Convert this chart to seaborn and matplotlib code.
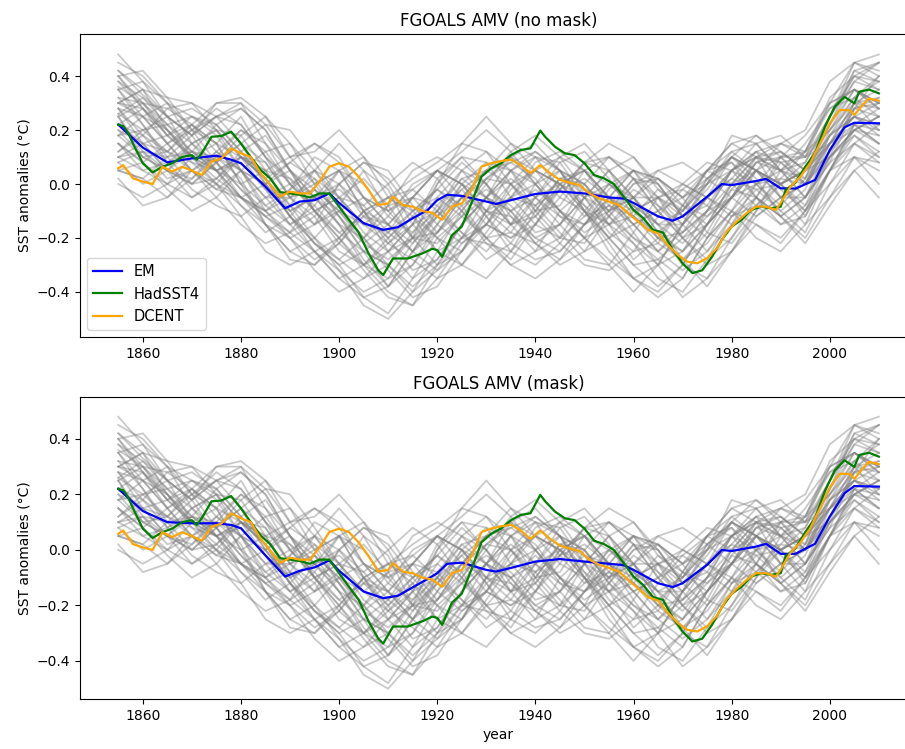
import matplotlib
matplotlib.use("Agg")
import matplotlib.pyplot as plt
import seaborn as sns
import pandas as pd

# ---------------- data ----------------
member_years = [1855, 1860, 1865, 1870, 1875, 1880, 1885, 1890, 1895, 1900, 1905, 1910,
                1915, 1920, 1925, 1930, 1935, 1940, 1945, 1950, 1955, 1960, 1965, 1970,
                1975, 1980, 1985, 1990, 1995, 2000, 2005, 2010]

members = [
    [0.42,0.33,0.25,0.28,0.22,0.12,0.00,-0.10,-0.05,-0.15,-0.28,-0.38,-0.25,-0.10,0.02,0.05,0.08,0.12,0.05,-0.05,-0.15,-0.22,-0.30,-0.25,-0.10,0.05,0.10,0.05,0.08,0.25,0.42,0.38],
    [0.05,0.02,-0.05,0.02,0.12,0.20,0.15,0.05,-0.05,-0.15,-0.20,-0.12,0.00,0.05,-0.05,-0.15,-0.20,-0.15,-0.05,0.08,0.10,0.02,-0.10,-0.20,-0.15,-0.05,0.10,0.12,0.05,0.10,0.20,0.25],
    [0.30,0.25,0.15,0.05,-0.02,-0.05,-0.12,-0.20,-0.15,0.00,0.08,0.02,-0.10,-0.20,-0.25,-0.15,0.00,0.10,0.08,-0.05,-0.18,-0.25,-0.22,-0.08,0.05,0.08,-0.05,-0.15,-0.12,0.05,0.18,0.10],
    [0.18,0.20,0.22,0.25,0.20,0.05,-0.10,-0.18,-0.25,-0.20,-0.10,-0.05,-0.12,-0.25,-0.30,-0.18,-0.05,0.05,0.10,0.05,-0.05,-0.10,-0.05,-0.02,-0.08,-0.15,-0.05,0.10,0.18,0.30,0.35,0.28],
    [0.25,0.10,0.05,0.12,0.22,0.28,0.20,0.05,-0.05,-0.02,-0.10,-0.25,-0.35,-0.28,-0.15,-0.05,0.02,-0.05,-0.15,-0.25,-0.20,-0.10,-0.05,-0.10,0.00,0.12,0.15,0.05,-0.05,0.08,0.28,0.32],
    [0.35,0.38,0.30,0.15,0.05,0.00,0.05,0.02,-0.10,-0.20,-0.30,-0.25,-0.15,0.00,0.10,0.08,-0.05,-0.15,-0.20,-0.12,0.00,0.05,-0.05,-0.20,-0.28,-0.20,-0.05,0.08,0.10,0.20,0.30,0.20],
    [0.10,0.15,0.05,-0.05,0.00,0.10,0.08,-0.05,-0.15,-0.08,0.05,-0.02,-0.20,-0.30,-0.25,-0.10,0.05,0.12,0.05,-0.10,-0.25,-0.35,-0.30,-0.15,0.02,0.10,0.05,-0.05,0.00,0.18,0.25,0.30],
    [0.28,0.18,0.12,0.20,0.25,0.15,0.00,-0.12,-0.20,-0.28,-0.35,-0.30,-0.18,-0.05,0.05,0.00,-0.10,-0.20,-0.15,0.00,0.10,0.05,-0.08,-0.15,-0.05,0.05,0.12,0.00,-0.12,0.05,0.22,0.20],
    [0.15,0.05,0.00,0.05,0.10,0.02,-0.15,-0.25,-0.30,-0.22,-0.10,-0.15,-0.25,-0.15,0.00,0.08,0.05,-0.10,-0.20,-0.22,-0.10,0.02,0.00,-0.12,-0.20,-0.10,0.05,0.15,0.12,0.20,0.32,0.40],
    [0.22,0.28,0.20,0.10,0.15,0.25,0.10,-0.05,0.00,0.05,-0.10,-0.22,-0.15,0.02,0.10,0.00,-0.15,-0.25,-0.20,-0.05,0.05,-0.05,-0.18,-0.25,-0.15,0.00,0.10,0.08,0.00,0.12,0.22,0.15],
    [0.40,0.30,0.18,0.10,0.05,0.10,0.02,-0.12,-0.22,-0.30,-0.42,-0.48,-0.35,-0.20,-0.12,-0.20,-0.28,-0.15,0.00,0.05,-0.05,-0.15,-0.25,-0.18,-0.05,-0.10,-0.20,-0.25,-0.15,0.05,0.20,0.25],
    [0.05,0.08,0.15,0.22,0.15,0.00,-0.08,-0.02,0.10,0.05,-0.10,-0.20,-0.12,-0.02,-0.08,-0.20,-0.18,-0.05,0.05,0.00,-0.12,-0.20,-0.28,-0.35,-0.20,-0.05,0.05,0.00,0.05,0.22,0.35,0.30],
    [0.32,0.22,0.10,0.00,0.02,0.12,0.18,0.05,-0.10,-0.18,-0.12,-0.05,0.02,0.08,0.15,0.12,0.00,-0.10,-0.08,0.05,0.10,0.02,-0.10,-0.05,0.05,0.15,0.10,-0.05,-0.05,0.10,0.18,0.12],
    [0.20,0.15,0.12,0.05,-0.05,-0.15,-0.22,-0.18,-0.05,0.05,-0.05,-0.15,-0.25,-0.32,-0.25,-0.12,-0.05,-0.08,-0.18,-0.28,-0.30,-0.18,-0.05,0.00,-0.05,-0.12,-0.08,-0.15,-0.08,0.12,0.28,0.30],
    [0.45,0.40,0.30,0.25,0.18,0.05,-0.05,-0.05,0.02,-0.05,-0.18,-0.25,-0.20,-0.12,-0.02,0.05,0.00,-0.08,-0.02,0.08,0.05,-0.05,-0.15,-0.15,-0.05,0.05,0.00,-0.08,0.02,0.25,0.45,0.42],
    [0.12,0.20,0.25,0.18,0.05,-0.05,-0.10,-0.20,-0.32,-0.40,-0.35,-0.25,-0.15,-0.10,-0.18,-0.25,-0.15,0.00,0.05,0.00,-0.10,-0.20,-0.25,-0.15,0.00,0.05,-0.05,-0.12,-0.05,0.15,0.25,0.18],
    [0.25,0.12,0.02,0.05,0.12,0.05,-0.05,-0.15,-0.08,0.05,0.00,-0.12,-0.18,-0.10,0.05,0.12,0.05,-0.05,-0.12,-0.15,-0.05,0.05,0.00,-0.12,-0.08,0.05,0.15,0.18,0.10,0.15,0.20,0.18],
    [0.38,0.32,0.22,0.15,0.20,0.18,0.05,-0.08,-0.15,-0.10,-0.20,-0.30,-0.40,-0.32,-0.20,-0.10,-0.12,-0.20,-0.25,-0.15,-0.05,-0.05,-0.15,-0.28,-0.38,-0.25,-0.10,0.00,0.05,0.18,0.28,0.25],
    [0.00,-0.05,0.00,0.10,0.08,-0.05,-0.15,-0.25,-0.20,-0.10,-0.05,-0.10,-0.05,0.05,0.00,-0.12,-0.22,-0.28,-0.25,-0.15,-0.02,0.05,0.02,-0.05,0.02,0.08,0.00,-0.10,-0.18,0.00,0.15,0.22],
    [0.28,0.25,0.15,0.20,0.28,0.22,0.10,0.00,0.05,0.00,-0.12,-0.15,-0.05,0.05,0.00,-0.10,-0.05,0.08,0.12,0.05,-0.08,-0.12,-0.18,-0.10,0.05,0.12,0.05,0.00,0.08,0.25,0.38,0.45],
    [0.15,0.08,-0.02,-0.10,-0.05,0.05,0.00,-0.12,-0.22,-0.28,-0.20,-0.08,-0.05,-0.15,-0.22,-0.15,-0.02,0.05,0.00,-0.10,-0.15,-0.08,-0.15,-0.22,-0.12,-0.02,-0.05,-0.12,-0.20,-0.05,0.10,0.05],
    [0.35,0.25,0.20,0.10,0.05,0.10,-0.02,-0.10,-0.05,-0.12,-0.25,-0.30,-0.20,0.00,0.15,0.25,0.15,0.05,0.00,-0.05,-0.10,-0.05,-0.05,-0.12,-0.02,0.10,0.05,0.00,0.05,0.18,0.25,0.22],
    [0.22,0.18,0.08,0.12,0.05,-0.05,-0.10,-0.05,-0.12,-0.25,-0.30,-0.22,-0.12,-0.20,-0.30,-0.35,-0.25,-0.10,0.02,0.00,-0.12,-0.22,-0.35,-0.40,-0.28,-0.12,-0.05,-0.12,-0.05,0.10,0.20,0.15],
    [0.10,0.12,0.10,0.18,0.30,0.30,0.15,0.00,-0.10,-0.05,-0.15,-0.18,-0.10,-0.02,-0.10,-0.20,-0.30,-0.25,-0.10,-0.02,-0.05,-0.15,-0.10,0.00,0.08,0.05,0.10,0.05,0.02,0.22,0.38,0.35],
    [0.30,0.35,0.25,0.10,0.00,-0.05,-0.12,-0.08,0.05,0.15,0.05,-0.10,-0.20,-0.18,-0.05,0.02,0.10,0.05,-0.05,-0.10,-0.20,-0.30,-0.38,-0.30,-0.15,-0.05,0.05,0.10,0.00,0.10,0.30,0.28],
    [0.18,0.10,0.05,0.00,0.08,0.15,0.08,-0.05,-0.02,-0.15,-0.30,-0.40,-0.45,-0.30,-0.15,-0.05,0.05,0.00,-0.10,-0.18,-0.12,0.00,0.02,-0.05,0.00,0.10,0.05,-0.05,0.00,0.12,0.28,0.40],
    [0.40,0.28,0.18,0.22,0.15,0.00,-0.15,-0.28,-0.30,-0.20,-0.10,-0.05,-0.02,-0.10,-0.20,-0.15,-0.05,0.00,0.10,0.15,0.05,-0.10,-0.20,-0.18,-0.10,-0.05,0.00,0.05,0.12,0.30,0.35,0.30],
    [0.08,0.00,0.05,0.15,0.20,0.10,0.02,0.08,0.15,0.10,-0.05,-0.15,-0.22,-0.12,0.00,-0.05,-0.15,-0.10,0.02,-0.02,-0.15,-0.28,-0.20,-0.08,0.05,0.15,0.18,0.10,0.02,0.15,0.25,0.20],
    [0.26,0.20,0.12,0.08,0.05,0.08,-0.02,-0.15,-0.25,-0.35,-0.42,-0.38,-0.25,-0.12,-0.05,-0.10,-0.18,-0.22,-0.15,-0.05,0.00,-0.08,-0.20,-0.28,-0.22,-0.10,0.00,0.02,0.00,0.15,0.22,0.15],
    [0.32,0.30,0.20,0.12,0.10,0.05,0.00,0.05,-0.02,-0.10,-0.15,-0.08,0.05,0.10,0.05,-0.05,-0.10,-0.05,0.00,-0.08,-0.15,-0.12,-0.02,-0.08,-0.15,-0.05,0.08,0.10,0.10,0.30,0.45,0.48],
    [0.30,0.35,0.32,0.30,0.25,0.28,0.20,0.05,-0.10,-0.22,-0.30,-0.35,-0.30,-0.18,-0.05,0.05,0.10,0.00,-0.12,-0.20,-0.28,-0.35,-0.40,-0.30,-0.15,0.00,0.10,0.15,0.20,0.38,0.45,0.40],
    [0.20,0.10,0.12,0.22,0.30,0.32,0.25,0.10,0.00,0.05,0.10,0.00,-0.15,-0.25,-0.20,-0.05,0.10,0.15,0.05,-0.10,-0.20,-0.15,-0.10,-0.20,-0.30,-0.25,-0.15,-0.20,-0.10,0.05,0.10,0.00],
    [0.38,0.28,0.15,0.05,-0.02,0.05,0.12,0.15,0.05,-0.08,-0.20,-0.32,-0.42,-0.38,-0.25,-0.10,0.00,0.05,0.00,-0.10,-0.22,-0.35,-0.42,-0.35,-0.20,-0.10,-0.15,-0.22,-0.10,0.10,0.20,0.25],
    [0.12,0.18,0.28,0.30,0.20,0.10,0.02,-0.08,-0.20,-0.32,-0.45,-0.50,-0.40,-0.25,-0.10,0.02,0.08,0.02,-0.10,-0.20,-0.15,-0.05,0.05,0.08,0.02,-0.05,-0.12,-0.05,0.05,0.25,0.40,0.45],
    [0.48,0.38,0.25,0.18,0.25,0.30,0.22,0.10,0.12,0.20,0.10,-0.05,-0.10,-0.02,0.08,0.00,-0.12,-0.22,-0.28,-0.20,-0.05,0.05,0.02,-0.08,-0.12,-0.05,0.08,0.12,0.05,0.15,0.30,0.35],
    [0.02,-0.08,-0.05,0.05,0.00,-0.12,-0.25,-0.30,-0.25,-0.32,-0.40,-0.35,-0.22,-0.10,-0.02,-0.12,-0.25,-0.30,-0.22,-0.10,0.00,-0.05,-0.18,-0.30,-0.35,-0.25,-0.12,-0.05,-0.15,-0.05,0.05,-0.05],
    [0.25,0.30,0.22,0.12,0.08,0.15,0.22,0.20,0.08,-0.05,-0.08,0.00,0.08,0.02,-0.10,-0.22,-0.25,-0.15,-0.02,0.08,0.15,0.10,-0.02,-0.10,0.00,0.18,0.15,0.05,0.00,0.20,0.35,0.28],
    [0.35,0.22,0.08,-0.02,-0.08,-0.12,-0.05,0.00,-0.08,-0.18,-0.25,-0.18,-0.05,0.05,0.00,-0.10,-0.15,-0.05,0.08,0.12,0.02,-0.12,-0.22,-0.28,-0.18,-0.02,0.08,0.05,-0.05,0.08,0.15,0.08],
    [0.18,0.25,0.30,0.20,0.08,-0.02,-0.10,-0.02,0.05,-0.05,-0.15,-0.22,-0.28,-0.35,-0.30,-0.20,-0.10,-0.02,-0.10,-0.20,-0.30,-0.40,-0.30,-0.15,-0.05,0.02,-0.02,-0.10,-0.02,0.18,0.32,0.38],
    [0.28,0.15,0.05,0.02,0.10,0.20,0.12,0.00,-0.10,-0.05,0.02,-0.08,-0.20,-0.22,-0.12,0.00,0.12,0.18,0.10,-0.02,-0.10,-0.05,0.02,-0.05,-0.18,-0.22,-0.10,0.05,0.15,0.28,0.32,0.25],
    [0.42,0.35,0.20,0.08,0.00,-0.08,-0.15,-0.20,-0.28,-0.22,-0.12,-0.20,-0.32,-0.28,-0.15,-0.05,-0.10,-0.22,-0.30,-0.25,-0.12,-0.02,-0.08,-0.18,-0.10,0.05,0.12,0.08,0.00,0.15,0.30,0.32],
    [0.08,0.12,0.05,0.00,0.08,0.18,0.25,0.15,0.00,-0.12,-0.22,-0.15,-0.05,-0.08,-0.18,-0.28,-0.22,-0.08,0.02,0.05,0.00,-0.08,-0.15,-0.10,0.02,0.10,0.02,-0.12,-0.22,-0.08,0.05,0.12],
    [0.30,0.28,0.18,0.10,0.02,-0.05,0.00,0.08,0.02,-0.12,-0.25,-0.38,-0.30,-0.15,-0.05,0.05,0.15,0.10,-0.02,-0.12,-0.08,0.02,-0.05,-0.15,-0.25,-0.15,0.00,0.10,0.12,0.32,0.40,0.35],
    [0.15,0.08,0.00,-0.05,0.02,0.10,0.05,-0.10,-0.22,-0.30,-0.25,-0.30,-0.38,-0.30,-0.20,-0.22,-0.30,-0.35,-0.28,-0.15,-0.08,-0.15,-0.25,-0.32,-0.25,-0.12,-0.02,0.00,-0.08,0.05,0.15,0.10],
    [0.40,0.42,0.32,0.20,0.15,0.10,0.05,0.10,0.15,0.08,-0.05,-0.10,-0.02,0.05,0.12,0.20,0.12,0.00,-0.10,-0.15,-0.10,0.00,0.05,0.00,-0.05,0.02,0.12,0.15,0.10,0.25,0.40,0.38],
    [0.22,0.15,0.18,0.25,0.22,0.12,0.02,-0.12,-0.25,-0.35,-0.30,-0.20,-0.10,-0.05,-0.12,-0.05,0.05,0.10,0.05,-0.08,-0.20,-0.30,-0.28,-0.20,-0.10,0.00,0.05,-0.02,-0.10,0.05,0.22,0.28],
    [0.10,0.05,0.08,0.15,0.08,-0.02,-0.12,-0.18,-0.12,0.00,0.08,0.05,-0.08,-0.18,-0.10,0.02,0.00,-0.12,-0.22,-0.30,-0.32,-0.25,-0.12,-0.02,0.05,0.00,-0.08,0.02,0.12,0.28,0.35,0.30],
    [0.36,0.30,0.28,0.22,0.12,0.05,-0.08,-0.15,-0.10,-0.20,-0.32,-0.42,-0.45,-0.35,-0.22,-0.15,-0.20,-0.12,0.00,0.05,-0.05,-0.18,-0.30,-0.42,-0.35,-0.20,-0.08,0.00,0.05,0.15,0.25,0.22],
    [0.26,0.32,0.25,0.18,0.25,0.22,0.10,0.02,-0.05,0.00,-0.08,-0.18,-0.25,-0.18,-0.08,-0.02,-0.08,-0.18,-0.15,-0.05,0.05,0.10,0.00,-0.12,-0.05,0.10,0.18,0.12,0.05,0.22,0.42,0.45],
    [0.05,0.02,0.10,0.12,0.05,-0.08,-0.18,-0.12,-0.02,-0.10,-0.22,-0.28,-0.20,-0.08,0.02,-0.05,-0.15,-0.12,-0.02,0.02,-0.05,-0.12,-0.20,-0.25,-0.15,-0.05,0.05,0.00,-0.10,0.00,0.10,0.08],
]

em_years = [1855, 1860, 1865, 1870, 1875, 1878, 1880, 1885, 1889, 1892, 1895, 1898, 1900,
            1905, 1909, 1912, 1915, 1918, 1920, 1922, 1925, 1930, 1932, 1935, 1940, 1945,
            1950, 1955, 1958, 1960, 1965, 1968, 1970, 1975, 1978, 1980, 1985, 1987, 1990,
            1993, 1997, 2000, 2003, 2005, 2010]
em_nomask = [0.22, 0.135, 0.08, 0.095, 0.105, 0.09, 0.077, -0.01, -0.09, -0.065, -0.06, -0.035, -0.07,
             -0.145, -0.17, -0.16, -0.127, -0.097, -0.06, -0.04, -0.044, -0.065, -0.074, -0.06, -0.037, -0.028,
             -0.035, -0.05, -0.054, -0.07, -0.12, -0.136, -0.12, -0.047, 0.0, -0.004, 0.011, 0.019, -0.016,
             -0.017, 0.015, 0.126, 0.21, 0.227, 0.225]
em_mask = [0.22, 0.14, 0.10, 0.096, 0.096, 0.09, 0.078, -0.02, -0.096, -0.075, -0.063, -0.038, -0.075,
           -0.15, -0.174, -0.165, -0.135, -0.105, -0.084, -0.05, -0.046, -0.072, -0.078, -0.065, -0.042, -0.033,
           -0.042, -0.05, -0.055, -0.072, -0.12, -0.134, -0.12, -0.054, 0.0, -0.004, 0.012, 0.022, -0.014,
           -0.014, 0.022, 0.12, 0.204, 0.23, 0.228]

had_years = [1855, 1856, 1857, 1858, 1860, 1862, 1864, 1866, 1868, 1870, 1871, 1872, 1874, 1876,
             1878, 1880, 1882, 1884, 1886, 1888, 1890, 1892, 1894, 1896, 1898, 1900, 1902, 1904,
             1906, 1908, 1909, 1911, 1914, 1917, 1919, 1920, 1921, 1923, 1925, 1927, 1929, 1931,
             1933, 1935, 1937, 1939, 1941, 1942, 1944, 1946, 1948, 1950, 1952, 1954, 1956, 1958,
             1960, 1962, 1964, 1966, 1968, 1970, 1972, 1974, 1976, 1978, 1980, 1982, 1984, 1986,
             1988, 1990, 1991, 1993, 1995, 1997, 1999, 2001, 2003, 2005, 2006, 2008, 2010]
hadsst4 = [0.22, 0.215, 0.19, 0.15, 0.077, 0.043, 0.064, 0.077, 0.10, 0.107, 0.09, 0.114, 0.175, 0.178,
           0.194, 0.15, 0.10, 0.052, 0.02, -0.03, -0.035, -0.04, -0.05, -0.035, -0.035, -0.084, -0.133, -0.18,
           -0.257, -0.32, -0.337, -0.276, -0.276, -0.257, -0.24, -0.245, -0.27, -0.19, -0.158, -0.07, 0.027, 0.058,
           0.077, 0.107, 0.126, 0.132, 0.198, 0.175, 0.138, 0.114, 0.107, 0.077, 0.033, 0.021, 0.0, -0.047,
           -0.096, -0.127, -0.17, -0.18, -0.244, -0.294, -0.33, -0.32, -0.27, -0.207, -0.158, -0.133, -0.096, -0.084,
           -0.09, -0.084, -0.022, 0.005, 0.064, 0.114, 0.212, 0.286, 0.323, 0.299, 0.342, 0.35, 0.336]

dc_years = [1855, 1856, 1858, 1860, 1862, 1864, 1866, 1868, 1870, 1872, 1874, 1876, 1878, 1880,
            1882, 1884, 1886, 1888, 1890, 1892, 1894, 1896, 1898, 1900, 1902, 1904, 1906, 1908,
            1910, 1911, 1913, 1915, 1917, 1919, 1921, 1923, 1925, 1927, 1929, 1931, 1933, 1935,
            1937, 1939, 1941, 1943, 1945, 1947, 1949, 1951, 1953, 1955, 1957, 1959, 1961, 1963,
            1965, 1967, 1969, 1971, 1973, 1975, 1977, 1979, 1981, 1983, 1985, 1987, 1989, 1990,
            1991, 1992, 1994, 1996, 1998, 2000, 2002, 2004, 2005, 2007, 2008, 2010]
dcent = [0.058, 0.07, 0.021, 0.009, 0.0, 0.064, 0.046, 0.064, 0.05, 0.033, 0.083, 0.095, 0.132, 0.114,
         0.10, 0.04, -0.004, -0.047, -0.028, -0.035, -0.035, 0.009, 0.064, 0.077, 0.064, 0.027, -0.022, -0.078,
         -0.072, -0.047, -0.078, -0.084, -0.10, -0.107, -0.133, -0.084, -0.072, -0.022, 0.064, 0.077, 0.085, 0.091,
         0.07, 0.04, 0.07, 0.04, 0.015, 0.005, -0.004, -0.035, -0.053, -0.065, -0.078, -0.109, -0.14, -0.17,
         -0.183, -0.226, -0.263, -0.288, -0.294, -0.275, -0.238, -0.177, -0.14, -0.109, -0.084, -0.084, -0.096, -0.07,
         -0.04, -0.01, 0.027, 0.077, 0.15, 0.225, 0.274, 0.274, 0.256, 0.299, 0.317, 0.309]

titles = ["FGOALS AMV (no mask)", "FGOALS AMV (mask)"]
xticks = [1860, 1880, 1900, 1920, 1940, 1960, 1980, 2000]
yticks = [-0.4, -0.2, 0.0, 0.2, 0.4]

# ---------------- build tables ----------------
rows = []
for m, vals in enumerate(members):
    for yr, v in zip(member_years, vals):
        rows.append((m, yr, v))
df_members = pd.DataFrame(rows, columns=["member", "year", "value"])

# ---------------- figure ----------------
fig = plt.figure(figsize=(9.05, 7.49), dpi=100)
ax1 = fig.add_axes([0.0884, 0.5501, 0.925, 0.4045])
ax2 = fig.add_axes([0.0884, 0.0668, 0.925, 0.4032])

panels = [(ax1, em_nomask, (-0.567, 0.556)), (ax2, em_mask, (-0.537, 0.551))]
for i, (ax, em, ylim) in enumerate(panels):
    sns.lineplot(data=df_members, x="year", y="value", units="member", estimator=None,
                 color="grey", alpha=0.42, lw=1.3, ax=ax, legend=False)
    sns.lineplot(x=em_years, y=em, color="blue", lw=1.6, ax=ax, label="EM")
    sns.lineplot(x=had_years, y=hadsst4, color="green", lw=1.6, ax=ax, label="HadSST4")
    sns.lineplot(x=dc_years, y=dcent, color="orange", lw=1.6, ax=ax, label="DCENT")
    ax.set_xlim(1847.2, 2017.8)
    ax.set_ylim(*ylim)
    ax.set_xticks(xticks)
    ax.set_yticks(yticks)
    ax.set_yticklabels([f"{t:.1f}".replace("-", "\u2212") for t in yticks])
    ax.set_title(titles[i], fontsize=12)
    ax.set_ylabel("SST anomalies (\u00b0C)", fontsize=10)
    ax.tick_params(labelsize=10)
    if i == 0:
        ax.set_xlabel("")
        ax.legend(loc="lower left", fontsize=10.5)
    else:
        ax.set_xlabel("year", fontsize=10)
        lg = ax.get_legend()
        if lg is not None:
            lg.remove()

fig.savefig("out.png", dpi=100)
